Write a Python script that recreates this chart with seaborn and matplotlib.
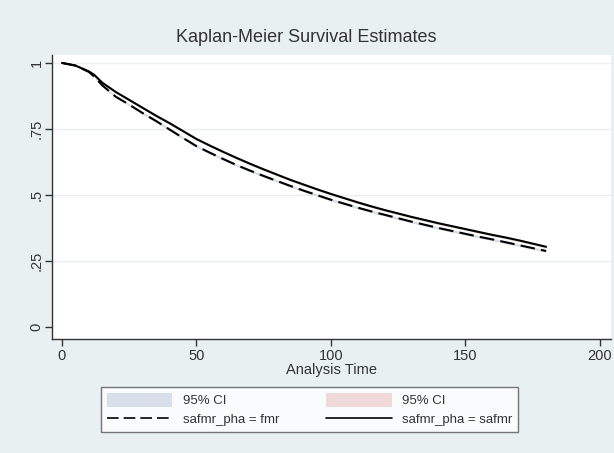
import numpy as np
import pandas as pd
import matplotlib
matplotlib.use("Agg")
import matplotlib.pyplot as plt
import seaborn as sns
from matplotlib.patches import Patch
from matplotlib.lines import Line2D

# analysis time and Kaplan-Meier estimates
time = [0, 5, 10, 12, 15, 20, 25, 30, 35, 40, 45, 50, 55, 60, 65, 70, 75,
        80, 85, 90, 95, 100, 105, 110, 115, 120, 125, 130, 135, 140, 145,
        150, 155, 160, 165, 170, 175, 180]
surv_safmr = [1.0, 0.99, 0.968, 0.955, 0.925, 0.89, 0.86, 0.83, 0.80, 0.772,
              0.742, 0.712, 0.687, 0.663, 0.640, 0.618, 0.597, 0.577, 0.557,
              0.539, 0.521, 0.504, 0.488, 0.472, 0.457, 0.443, 0.430, 0.417,
              0.405, 0.393, 0.382, 0.371, 0.360, 0.349, 0.339, 0.328, 0.316,
              0.304]
surv_fmr = [1.0, 0.99, 0.966, 0.948, 0.915, 0.872, 0.842, 0.810, 0.780,
            0.748, 0.716, 0.685, 0.660, 0.636, 0.613, 0.592, 0.572, 0.553,
            0.534, 0.516, 0.499, 0.482, 0.467, 0.452, 0.438, 0.425, 0.412,
            0.399, 0.387, 0.375, 0.364, 0.353, 0.342, 0.332, 0.321, 0.310,
            0.299, 0.288]
# half-width of the 95% CI band
ci_half = [0.0, 0.002, 0.003, 0.003, 0.004, 0.004, 0.004, 0.005, 0.005,
           0.005, 0.005, 0.005, 0.005, 0.005, 0.005, 0.005, 0.005, 0.005,
           0.005, 0.005, 0.005, 0.005, 0.005, 0.005, 0.005, 0.005, 0.005,
           0.005, 0.005, 0.005, 0.005, 0.005, 0.005, 0.005, 0.005, 0.005,
           0.005, 0.005]

groups = ["safmr_pha = fmr", "safmr_pha = safmr"]

df = pd.DataFrame({
    "time": time * 2,
    "surv": surv_fmr + surv_safmr,
    "group": [groups[0]] * len(time) + [groups[1]] * len(time),
})

bg = "#e9f0f2"
ci_colors = {groups[0]: "#d8dfe8", groups[1]: "#efd9d9"}

sns.set_style("white")
plt.rcParams["font.family"] = ["Liberation Sans", "DejaVu Sans"]

fig = plt.figure(figsize=(6.14, 4.53), dpi=100, facecolor=bg)
ax = fig.add_axes([0.0847, 0.2517, 0.9103, 0.6269])
ax.set_facecolor("white")

t = np.array(time)
h = np.array(ci_half)
for g, s in zip(groups, [surv_fmr, surv_safmr]):
    s = np.array(s)
    ax.fill_between(t, s - h, s + h, color=ci_colors[g], lw=0, zorder=1)

sns.lineplot(
    data=df, x="time", y="surv", style="group", style_order=groups,
    dashes={groups[0]: (7, 3), groups[1]: ""},
    color="black", linewidth=1.5, legend=False, ax=ax, zorder=3,
)

ax.set_xlim(-3.7, 204.1)
ax.set_ylim(-0.045, 1.03)
ax.set_xticks([0, 50, 100, 150, 200])
ax.set_yticks([0, 0.25, 0.5, 0.75, 1])
ax.set_yticklabels(["0", ".25", ".5", ".75", "1"], rotation=90, va="center")
for y in [0.25, 0.5, 0.75, 1]:
    ax.axhline(y, color="#eaeeef", lw=1.0, zorder=0)

ax.tick_params(axis="both", direction="out", length=5, width=1, color="#333333",
               labelsize=10.5, labelcolor="#333333", left=True, bottom=True, pad=2)
ax.tick_params(axis="y", pad=1)
for side in ["top", "right"]:
    ax.spines[side].set_visible(False)
for side in ["left", "bottom"]:
    ax.spines[side].set_color("#333333")
    ax.spines[side].set_linewidth(1.0)

ax.set_xlabel("Analysis Time", fontsize=10.5, color="#333333", labelpad=0)
ax.set_ylabel("")
fig.text(0.499, 0.918, "Kaplan-Meier Survival Estimates", ha="center",
         va="center", fontsize=13, color="#333333")

handles = [
    Patch(facecolor=ci_colors[groups[0]], edgecolor="none"),
    Line2D([], [], color="black", lw=1.2, dashes=(7, 3)),
    Patch(facecolor=ci_colors[groups[1]], edgecolor="none"),
    Line2D([], [], color="black", lw=1.2),
]
labels = ["95% CI", groups[0], "95% CI", groups[1]]
leg = fig.legend(handles, labels, ncol=2, loc="center",
                 bbox_to_anchor=(0.504, 0.0955), fontsize=9.5,
                 frameon=True, fancybox=False, edgecolor="#555555",
                 handlelength=5, handleheight=1.2, columnspacing=3.5,
                 labelspacing=0.35, borderpad=0.45, handletextpad=0.8)
leg.get_frame().set_linewidth(1.0)
for txt in leg.get_texts():
    txt.set_color("#333333")

fig.savefig("out.png", dpi=100, facecolor=bg)
